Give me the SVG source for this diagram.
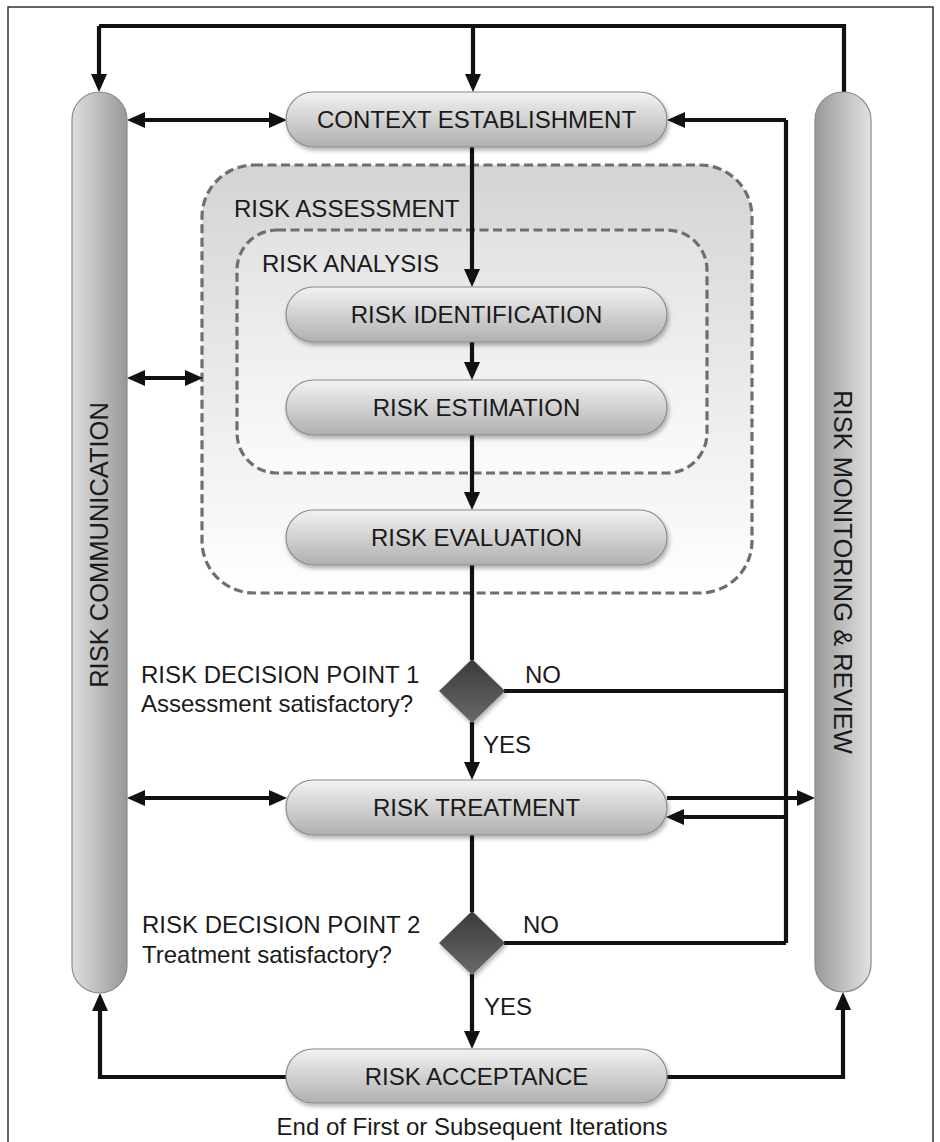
<svg xmlns="http://www.w3.org/2000/svg" width="940" height="1142" viewBox="0 0 940 1142">
<style>
text{font-family:"Liberation Sans",Arial,sans-serif;font-size:24px;fill:#1a1a1a}
.c{text-anchor:middle}
.v{font-size:25.5px}
.pill{fill:url(#gPill);stroke:#8a8a8a;stroke-width:1.2;filter:url(#sh)}
.dash{stroke:#6e6e6e;stroke-width:3.2;stroke-dasharray:9 4.5}
.ln{fill:none;stroke:#111;stroke-width:4.2}
.ar{marker-end:url(#ah)}
.ar2{marker-start:url(#ah);marker-end:url(#ah)}
</style>
<defs>
<linearGradient id="gPill" x1="0" y1="0" x2="0" y2="1">
<stop offset="0" stop-color="#f2f2f2"/><stop offset="1" stop-color="#b0b0b0"/>
</linearGradient>
<linearGradient id="gL" x1="0" y1="0" x2="1" y2="0">
<stop offset="0" stop-color="#dedede"/><stop offset="1" stop-color="#989898"/>
</linearGradient>
<linearGradient id="gR" x1="0" y1="0" x2="1" y2="0">
<stop offset="0" stop-color="#999"/><stop offset="1" stop-color="#e2e2e2"/>
</linearGradient>
<linearGradient id="gAs" x1="0" y1="0" x2="0" y2="1">
<stop offset="0" stop-color="#d4d4d4"/><stop offset="1" stop-color="#ffffff"/>
</linearGradient>
<linearGradient id="gAn" x1="0" y1="0" x2="0" y2="1">
<stop offset="0" stop-color="#e2e2e2"/><stop offset="1" stop-color="#fbfbfb"/>
</linearGradient>
<linearGradient id="gD" x1="0" y1="0" x2="0" y2="1">
<stop offset="0" stop-color="#3a3a3a"/><stop offset="1" stop-color="#6a6a6a"/>
</linearGradient>
<filter id="sh" x="-10%" y="-20%" width="120%" height="150%">
<feDropShadow dx="1.5" dy="3" stdDeviation="2" flood-color="#000" flood-opacity="0.3"/>
</filter>
<marker id="ah" viewBox="0 0 18 16" refX="13" refY="8" markerWidth="18" markerHeight="16" markerUnits="userSpaceOnUse" orient="auto-start-reverse">
<path d="M0,0 L18,8 L0,16 z" fill="#111"/>
</marker>
</defs>
<rect x="8" y="7" width="925" height="1145" fill="#fff" stroke="#333" stroke-width="1.5"/>

<g id="risk-assessment">
<rect x="202" y="165" width="550" height="428" rx="52" fill="url(#gAs)" class="dash"/>
<text x="234" y="217">RISK ASSESSMENT</text>
</g>
<g id="risk-analysis">
<rect x="237" y="230" width="470" height="243" rx="40" fill="url(#gAn)" class="dash"/>
<text x="262" y="272">RISK ANALYSIS</text>
</g>

<g id="connectors">
<path class="ln" d="M99,26 H844 V92"/>
<path class="ln ar" d="M99,26 V87"/>
<path class="ln ar" d="M473,26 V87"/>
<path class="ln ar2" d="M132,120 H282"/>
<path class="ln ar" d="M786,120 H672"/>
<path class="ln" d="M786,120 V943"/>
<path class="ln ar" d="M472,147 V282"/>
<path class="ln ar" d="M472,342 V375"/>
<path class="ln ar" d="M472,435 V505"/>
<path class="ln ar2" d="M132,378 H198"/>
<path class="ln" d="M472,565 V660"/>
<path class="ln" d="M504,691 H786"/>
<path class="ln ar" d="M472,722 V775"/>
<path class="ln ar2" d="M132,798 H282"/>
<path class="ln ar" d="M667,798 H810"/>
<path class="ln ar" d="M786,817 H671"/>
<path class="ln" d="M472,835 V912"/>
<path class="ln" d="M504,943 H786"/>
<path class="ln ar" d="M472,974 V1044"/>
<path class="ln ar" d="M286,1077 H100 V998"/>
<path class="ln ar" d="M667,1077 H843 V997"/>
</g>

<g id="risk-communication">
<rect x="72" y="92" width="55" height="901" rx="27.5" fill="url(#gL)" stroke="#8a8a8a" stroke-width="1.2"/>
<text class="c v" transform="translate(108,545) rotate(-90)">RISK COMMUNICATION</text>
</g>
<g id="risk-monitoring-review">
<rect x="815" y="92" width="56" height="900" rx="28" fill="url(#gR)" stroke="#8a8a8a" stroke-width="1.2"/>
<text class="c v" transform="translate(834,572) rotate(90)">RISK MONITORING &amp; REVIEW</text>
</g>

<g id="context-establishment">
<rect class="pill" x="286" y="92" width="381" height="55" rx="27.5"/>
<text class="c" x="476.5" y="128">CONTEXT ESTABLISHMENT</text>
</g>
<g id="risk-identification">
<rect class="pill" x="286" y="287" width="381" height="55" rx="27.5"/>
<text class="c" x="476.5" y="323">RISK IDENTIFICATION</text>
</g>
<g id="risk-estimation">
<rect class="pill" x="286" y="380" width="381" height="55" rx="27.5"/>
<text class="c" x="476.5" y="416">RISK ESTIMATION</text>
</g>
<g id="risk-evaluation">
<rect class="pill" x="286" y="510" width="381" height="55" rx="27.5"/>
<text class="c" x="476.5" y="546">RISK EVALUATION</text>
</g>

<g id="decision-1">
<polygon points="472,659 505,691 472,723 439,691" fill="url(#gD)" filter="url(#sh)"/>
<text x="141" y="683">RISK DECISION POINT 1</text>
<text x="141" y="712">Assessment satisfactory?</text>
<text x="525" y="683">NO</text>
<text x="483" y="753">YES</text>
</g>

<g id="risk-treatment">
<rect class="pill" x="286" y="780" width="381" height="55" rx="27.5"/>
<text class="c" x="476.5" y="816">RISK TREATMENT</text>
</g>

<g id="decision-2">
<polygon points="472,911 505,943 472,975 439,943" fill="url(#gD)" filter="url(#sh)"/>
<text x="142" y="933">RISK DECISION POINT 2</text>
<text x="142" y="963">Treatment satisfactory?</text>
<text x="523" y="933">NO</text>
<text x="484" y="1015">YES</text>
</g>

<g id="risk-acceptance">
<rect class="pill" x="286" y="1049" width="381" height="54" rx="27"/>
<text class="c" x="476.5" y="1085">RISK ACCEPTANCE</text>
<text class="c" x="472" y="1135">End of First or Subsequent Iterations</text>
</g>
</svg>
